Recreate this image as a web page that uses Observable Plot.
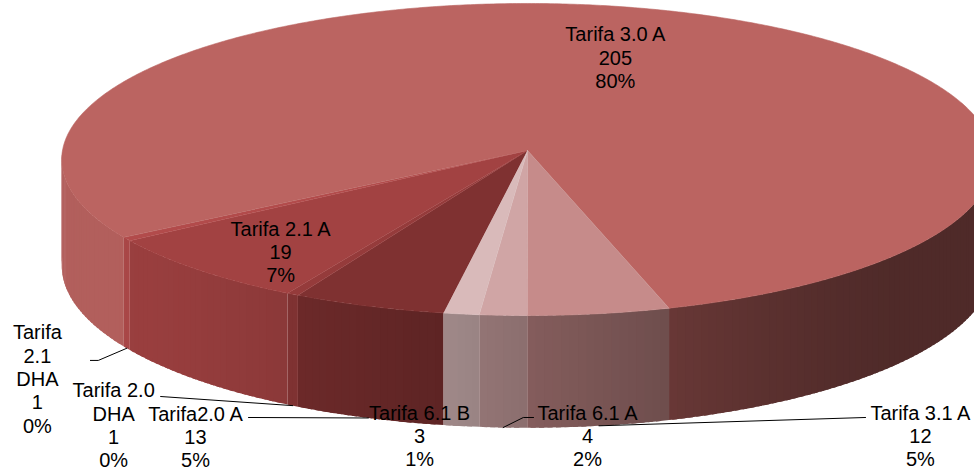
<!DOCTYPE html>
<html><head><meta charset="utf-8">
<script src="https://cdn.jsdelivr.net/npm/d3@7"></script>
<script src="https://cdn.jsdelivr.net/npm/@observablehq/plot@0.6"></script>
<style>body{margin:0;background:#fff} #chart svg{display:block}</style>
</head><body><div id="chart"></div>
<script>
// ---- data ----
const categories = ["Tarifa2.0 A", "Tarifa 2.0 DHA", "Tarifa 2.1 A", "Tarifa 2.1 DHA", "Tarifa 3.0 A", "Tarifa 3.1 A", "Tarifa 6.1 A", "Tarifa 6.1 B"];
const values = [13, 1, 19, 1, 205, 12, 4, 3];
const percentLabels = ["5%", "0%", "7%", "0%", "80%", "5%", "2%", "1%"];
const colors = ["#7f3131", "#953b3b", "#a24242", "#b24b4b", "#bb6461", "#c68b8a", "#d0a5a5", "#d9baba"];

// ---- layout (label wrapping and placement, in pie units) ----
const labelLines = [["Tarifa2.0 A"], ["Tarifa 2.0", "DHA"], ["Tarifa 2.1 A"], ["Tarifa", "2.1", "DHA"], ["Tarifa 3.0 A"], ["Tarifa 3.1 A"], ["Tarifa 6.1 A"], ["Tarifa 6.1 B"]];
const labelX = [-0.714, -0.890, -0.531, -1.054, 0.189, 0.845, 0.129, -0.232];
const labelY = [1.839, 1.765, 0.651, 1.466, -0.601, 1.833, 1.833, 1.833];
const leaderPts = [
  [[-0.600, 1.717]],
  [[-0.789, 1.582]],
  null,
  [[-0.923, 1.350], [-0.940, 1.350]],
  null,
  [[0.727, 1.717]],
  [[-0.009, 1.717], [0.013, 1.717]],
  null
];
const P = 0.0577, DEPTH = 0.68, START = 99.8;

function proj(t, r, h) {
  const u = r * Math.cos(t), v = r * Math.sin(t);
  const w = 1 - P * v;
  return [u / w, (v + h) / w];
}
function shade(hex, t) {
  const deg = ((t * 180 / Math.PI) % 360 + 360) % 360;
  const x = Math.min(1, Math.max(0, (deg - 35) / 115));
  const s = x * x * (3 - 2 * x);
  const f = 0.42 + 0.53 * s;
  const c = d3.rgb(hex);
  return d3.rgb(c.r * f, c.g * f, c.b * f).formatHex();
}

const arcs = d3.pie().sort(null).value(d => d)
  .startAngle(START * Math.PI / 180).endAngle((START + 360) * Math.PI / 180)(values);

const DEG = Math.PI / 180;
const sides = [];
arcs.forEach((a, i) => {
  for (let k = -1; k <= 2; k++) {
    const lo = Math.max(a.startAngle, 2 * Math.PI * k), hi = Math.min(a.endAngle, 2 * Math.PI * k + Math.PI);
    if (hi <= lo) continue;
    const n = Math.max(1, Math.ceil((hi - lo) / DEG));
    for (let j = 0; j < n; j++) {
      const t0 = lo + (hi - lo) * j / n;
      const t1n = lo + (hi - lo) * (j + 1) / n;
      const t1 = j < n - 1 ? Math.min(hi, t1n + 0.6 * DEG) : t1n;
      const id = `s${i}_${k}_${j}`, col = shade(colors[i], (t0 + t1n) / 2);
      [[t0, 0], [t1, 0], [t1, DEPTH], [t0, DEPTH]].forEach(([t, h]) => {
        const [X, Y] = proj(t, 1, h);
        sides.push({id, X, Y, col});
      });
    }
  }
});

const tops = [];
arcs.forEach((a, i) => {
  const id = `t${i}`;
  tops.push({id, X: 0, Y: 0, col: colors[i]});
  const n = Math.max(2, Math.ceil((a.endAngle - a.startAngle) / (DEG / 2)));
  for (let j = 0; j <= n; j++) {
    const t = a.startAngle + (a.endAngle - a.startAngle) * j / n;
    const [X, Y] = proj(t, 1, 0);
    tops.push({id, X, Y, col: colors[i]});
  }
});

const leaders = [];
arcs.forEach((a, i) => {
  if (!leaderPts[i]) return;
  const mid = (a.startAngle + a.endAngle) / 2;
  const [X, Y] = proj(mid, 1, DEPTH);
  leaders.push({id: i, X, Y});
  leaderPts[i].forEach(([X, Y]) => leaders.push({id: i, X, Y}));
});

const labels = categories.map((c, i) => ({
  X: labelX[i], Y: labelY[i],
  text: [...labelLines[i], String(values[i]), percentLabels[i]].join("\n")
}));

const chart = Plot.plot({
  width: 974, height: 473, margin: 0,
  x: {domain: [-527 / 465, 447 / 465], range: [0, 974], axis: null},
  y: {domain: [-150 / 155.5, 323 / 155.5], range: [0, 473], axis: null},
  color: {type: "identity"},
  style: {background: "white"},
  marks: [
    Plot.line(sides, {x: "X", y: "Y", z: "id", fill: "col", stroke: "none", curve: "linear"}),
    Plot.line(tops, {x: "X", y: "Y", z: "id", fill: "col", stroke: "col", strokeWidth: 0.6, curve: "linear"}),
    Plot.line(leaders, {x: "X", y: "Y", z: "id", stroke: "#000", strokeWidth: 1, curve: "linear"}),
    Plot.text(labels, {x: "X", y: "Y", text: "text", fontSize: 20, lineHeight: 1.165, fill: "#000",
      fontFamily: "'Liberation Sans', Arial, sans-serif"})
  ]
});
document.getElementById("chart").appendChild(chart);
</script>
</body></html>
